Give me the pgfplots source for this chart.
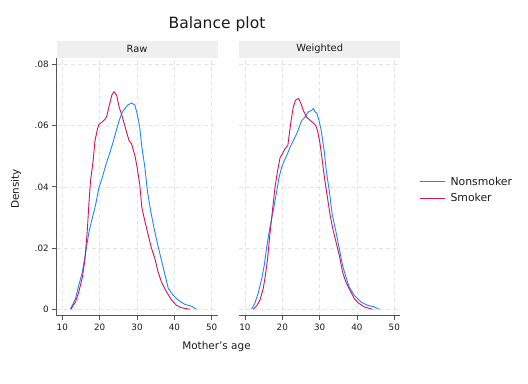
\documentclass[border=0pt]{standalone}
\usepackage{pgfplots}
\pgfplotsset{compat=1.18}
\usepackage{fontspec}
\setmainfont{DejaVu Sans}
\definecolor{cblue}{HTML}{1A85FF}
\definecolor{cred}{HTML}{D41159}
\definecolor{axgray}{HTML}{555555}
\definecolor{gridgray}{HTML}{E4E4E4}
\definecolor{stripgray}{HTML}{EFEFEF}
\definecolor{txt}{HTML}{1A1A1A}

\pgfplotstableread{
x y
12.16 0
13.54 0.0035
14.42 0.0079
15.40 0.0123
16.28 0.0189
17.17 0.0255
18.05 0.0299
18.94 0.0343
19.82 0.0398
20.70 0.0430
21.59 0.0469
22.47 0.0502
23.45 0.0540
24.34 0.0579
25.22 0.0617
26.10 0.0645
27.48 0.0667
28.56 0.0674
29.44 0.0667
30.13 0.0634
30.72 0.0595
31.30 0.0530
32.10 0.0464
32.78 0.0387
33.67 0.0320
34.55 0.0266
35.53 0.0211
36.42 0.0167
37.50 0.0112
38.38 0.0068
39.66 0.0046
41.03 0.0030
42.80 0.0016
44.57 0.0010
45.94 0
}\rawnon

\pgfplotstableread{
x y
12.26 0
13.54 0.0024
14.42 0.0057
15.40 0.0106
16.09 0.0167
16.68 0.0255
17.17 0.0354
17.56 0.0420
18.25 0.0485
18.74 0.0550
19.43 0.0590
19.82 0.0604
20.70 0.0612
21.59 0.0623
21.98 0.0634
22.47 0.0661
23.26 0.0700
23.85 0.0711
24.53 0.0700
25.22 0.0660
26.10 0.0628
26.99 0.0588
27.87 0.0551
28.56 0.0540
29.44 0.0502
30.03 0.0464
30.72 0.0409
31.30 0.0332
32.10 0.0288
32.98 0.0244
33.86 0.0200
34.75 0.0167
35.63 0.0123
36.51 0.0090
37.89 0.0057
39.26 0.0030
40.54 0.0013
41.92 0.0005
44.17 0
}\rawsmk

\pgfplotstableread{
x y
11.77 0
12.65 0.0019
13.54 0.0052
14.52 0.0101
15.20 0.0145
15.79 0.0200
16.68 0.0266
17.56 0.0321
18.54 0.0387
19.13 0.0430
19.82 0.0463
20.51 0.0485
21.19 0.0502
22.08 0.0529
22.96 0.0551
23.85 0.0573
24.53 0.0595
25.22 0.0617
26.10 0.0628
26.99 0.0645
27.87 0.0650
28.36 0.0656
28.76 0.0645
29.25 0.0641
29.84 0.0617
30.43 0.0584
31.22 0.0518
31.80 0.0452
32.59 0.0387
33.37 0.0310
34.35 0.0255
35.24 0.0200
36.12 0.0145
37.00 0.0107
37.89 0.0074
39.26 0.0046
41.03 0.0024
42.80 0.0013
44.57 0.0008
45.94 0
}\wtnon

\pgfplotstableread{
x y
12.26 0
13.14 0.0011
14.03 0.0030
14.91 0.0068
15.50 0.0112
16.09 0.0167
16.68 0.0244
17.17 0.0299
17.56 0.0343
18.05 0.0398
18.74 0.0452
19.43 0.0496
20.02 0.0507
20.70 0.0524
21.49 0.0535
21.78 0.0562
22.37 0.0617
22.96 0.0661
23.55 0.0683
24.34 0.0689
25.02 0.0672
25.61 0.0650
26.50 0.0628
27.48 0.0617
28.36 0.0608
28.95 0.0601
29.44 0.0584
30.13 0.0540
30.72 0.0485
31.41 0.0420
32.10 0.0365
32.78 0.0310
33.47 0.0266
34.35 0.0222
35.24 0.0178
36.12 0.0123
37.00 0.0090
37.89 0.0068
39.26 0.0035
40.54 0.0019
41.92 0.0008
44.17 0
}\wtsmk

\pgfplotsset{
  panel/.style={
    scale only axis, width=160.8bp, height=258bp, anchor=south west,
    xmin=8.5, xmax=51.55, ymin=-0.0021, ymax=0.0822,
    xtick={10,20,30,40,50}, ytick={0,0.02,0.04,0.06,0.08},
    yticklabels={0,.02,.04,.06,.08},
    axis x line*=bottom, axis y line*=left,
    axis line style={axgray, line width=0.8bp},
    tick style={axgray, line width=0.8bp},
    tick align=outside, major tick length=4.5bp,
    grid=major, major grid style={gridgray, dash pattern=on 4bp off 3bp, line width=0.6bp},
    ticklabel style={font=\fontsize{8.8}{10}\selectfont, text=txt},
    /pgf/number format/assume math mode=true,
    every axis title shift=0pt,
    title style={fill=stripgray, minimum width=160.8bp, minimum height=16.7bp, inner sep=0pt,
      at={(0.5,1)}, anchor=south, yshift=0pt, font=\fontsize{9.9}{11}\selectfont, text=txt},
    every axis plot/.append style={line width=0.9bp},
  }
}

\begin{document}
\begin{tikzpicture}
\useasboundingbox (0,0) rectangle (528bp,384bp);
\begin{axis}[panel, at={(56.7bp,68.3bp)}, title={Raw}]
\addplot[cblue] table[x=x,y=y] {\rawnon};
\addplot[cred] table[x=x,y=y] {\rawsmk};
\end{axis}
\begin{axis}[panel, at={(239.3bp,68.3bp)}, title={Weighted},
  y axis line style={draw=none}, ytick style={draw=none}, yticklabels={},
  legend style={at={(1.119,0.487)}, anchor=west, draw=none, fill=none,
    font=\fontsize{10.9}{13}\selectfont, inner xsep=0pt, inner ysep=0pt, row sep=3bp,
    nodes={text=txt}, /tikz/every odd column/.append style={column sep=3.5bp}},
  legend cell align=left,
  legend image code/.code={\draw[#1] (0bp,0bp) -- (24.7bp,0bp);}]
\addplot[cblue] table[x=x,y=y] {\wtnon};
\addlegendentry{Nonsmoker}
\addplot[cred] table[x=x,y=y] {\wtsmk};
\addlegendentry{Smoker}
\end{axis}
\node[font=\fontsize{15.6}{18}\selectfont, text=txt] at (217bp,359.5bp) {Balance plot};
\node[rotate=90, font=\fontsize{10.5}{12}\selectfont, text=txt] at (16bp,195bp) {Density};
\node[font=\fontsize{10.5}{12}\selectfont, text=txt] at (216.5bp,37bp) {Mother's age};
\end{tikzpicture}
\end{document}
